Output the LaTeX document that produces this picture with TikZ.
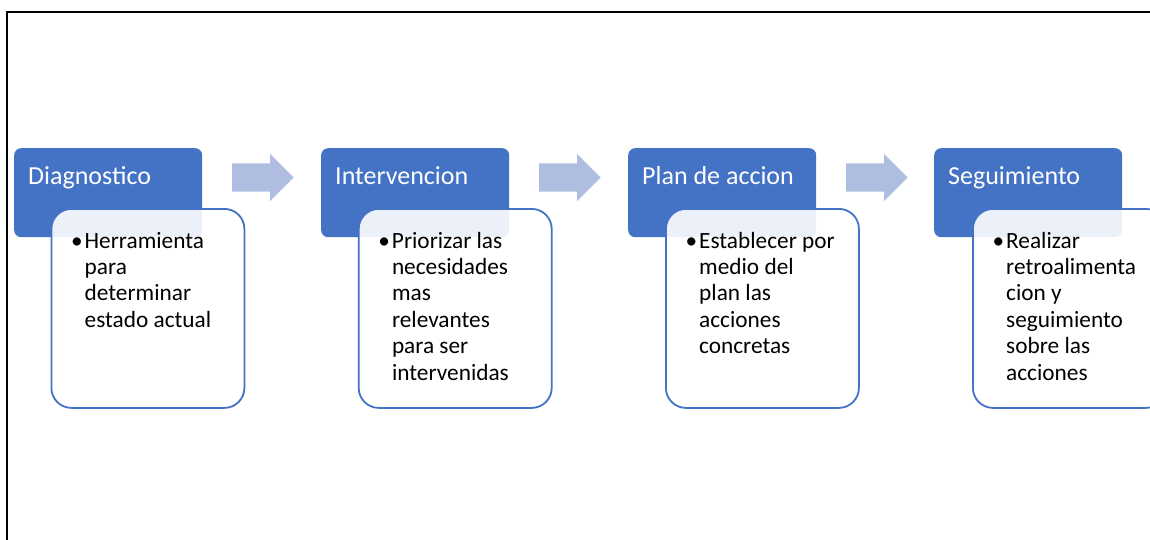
\documentclass[tikz,border=0pt]{standalone}
\usepackage{fontspec}
\setmainfont{Carlito}
\usetikzlibrary{shapes.arrows}
\definecolor{hdr}{RGB}{68,114,196}
\definecolor{arr}{RGB}{174,189,224}
\tikzset{
  hdrbox/.style={fill=hdr, draw=none, rounded corners=7pt, minimum width=188pt, minimum height=89pt, inner sep=0pt, anchor=north west},
  bulbox/.style={draw=hdr, line width=1.8pt, fill=white, fill opacity=0.9, rounded corners=20pt, minimum width=193pt, minimum height=199pt, inner sep=0pt, anchor=north west},
  hdrtext/.style={text=white, font=\fontsize{26}{31}\selectfont, inner sep=0pt, anchor=base west},
  bultext/.style={text=black, font=\fontsize{23.3}{26.4}\selectfont, inner sep=0pt, anchor=base west},
  flow/.style={shape=single arrow, fill=arr, draw=none, inner xsep=0pt, inner ysep=14pt, minimum width=47pt, minimum height=61.5pt, single arrow head extend=9.5pt, anchor=tail},
  frameline/.style={line width=1.8pt, black}
}
\newcommand{\bul}{\leavevmode\llap{\textbullet\hspace{2pt}}}
\begin{document}
\begin{tikzpicture}[x=1pt,y=-1pt]
\clip (0,0) rectangle (1150,540);
\fill[white] (0,0) rectangle (1150,540);
\coordinate (fa) at (7.3,545);
\coordinate (fb) at (7.3,12.3);
\coordinate (fc) at (1155,12.3);
\draw[frameline] (fa) -- (fb) -- (fc);

% headers
\node[hdrbox] (h1) at (14,148) {};
\node[hdrbox] (h2) at (321,148) {};
\node[hdrbox] (h3) at (628,148) {};
\node[hdrbox] (h4) at (934,148) {};

\node[hdrtext] (t1) at (28,185) {Diagnostico};
\node[hdrtext] (t2) at (335,185) {Intervencion};
\node[hdrtext] (t3) at (642,185) {Plan de accion};
\node[hdrtext] (t4) at (948,185) {Seguimiento};

% arrows
\node[flow] (a1) at (232,177.5) {};
\node[flow] (a2) at (539,177.5) {};
\node[flow] (a3) at (846,177.5) {};

% bullet boxes
\node[bulbox] (b1) at (50.5,208) {};
\node[bulbox] (b2) at (357.8,208) {};
\node[bulbox] (b3) at (665,208) {};
\node[bulbox] (b4) at (972,208) {};

\node[bultext] (d1) at (84.5,248) {\parbox[t]{170pt}{\raggedright\bul Herramienta\\para\\determinar\\estado actual}};
\node[bultext] (d2) at (391.8,248) {\parbox[t]{170pt}{\raggedright\bul Priorizar las\\necesidades\\mas\\relevantes\\para ser\\intervenidas}};
\node[bultext] (d3) at (699,248) {\parbox[t]{170pt}{\raggedright\bul Establecer por\\medio del\\plan las\\acciones\\concretas}};
\node[bultext] (d4) at (1006,248) {\parbox[t]{170pt}{\raggedright\bul Realizar\\retroalimenta\\cion y\\seguimiento\\sobre las\\acciones}};
\end{tikzpicture}
\end{document}
